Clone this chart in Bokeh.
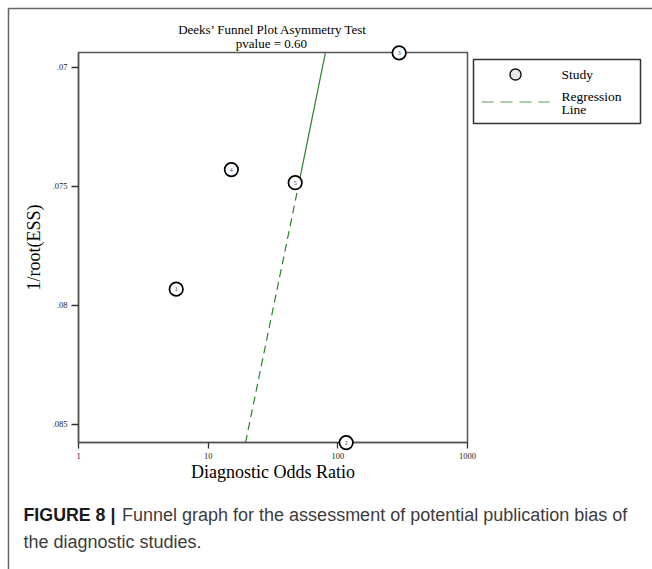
import numpy as np
from bokeh.plotting import figure
from bokeh.models import Range1d, FixedTicker, ColumnDataSource
from bokeh.core.properties import value
from bokeh.embed import file_html
from bokeh.resources import INLINE

# ---------------- data ----------------
study_ids = ["1", "2", "3", "4", "5"]
diagnostic_odds_ratio = [5.67, 116.0, 297.0, 15.1, 46.9]
inv_root_ess = [0.07932, 0.08576, 0.06940, 0.07430, 0.07485]

# regression line (bottom end, point where it turns solid, top end)
reg_dor = [19.4, 50.0, 80.3]
reg_inv_root_ess = [0.08576, 0.0749, 0.06938]

x_ticks = [1, 10, 100, 1000]
x_tick_labels = ["1", "10", "100", "1000"]
y_ticks = [0.07, 0.075, 0.08, 0.085]
y_tick_labels = [".07", ".075", ".08", ".085"]

title_lines = ["Deeks\u2019 Funnel Plot Asymmetry Test", "pvalue =  0.60"]
x_title = "Diagnostic Odds Ratio"
y_title = "1/root(ESS)"
legend_study = "Study"
legend_reg_lines = ["Regression", "Line"]
caption_bold = "FIGURE 8 |"
caption_line1 = "Funnel graph for the assessment of potential publication bias of"
caption_line2 = "the diagnostic studies."

# axis limits
X_MIN, X_MAX = 1, 1000
Y_TOP, Y_BOT = 0.069383, 0.085756

# ---------------- layout (pixels) ----------------
W, H = 652, 569
FRAME_L, FRAME_R = 78, 467
FRAME_T, FRAME_B = 52, 442

K = (Y_BOT - Y_TOP) / (FRAME_B - FRAME_T)
DEC = (FRAME_R - FRAME_L) / (np.log10(X_MAX) - np.log10(X_MIN))


def xd(px):
    return 10 ** (np.log10(X_MIN) + (np.asarray(px, dtype=float) - FRAME_L) / DEC)


def yd(py):
    return Y_TOP + (np.asarray(py, dtype=float) - FRAME_T) * K


SERIF = "Liberation Serif"
SANS = "Liberation Sans"

p = figure(width=W, height=H, x_axis_type="log",
           x_range=Range1d(X_MIN, X_MAX), y_range=Range1d(Y_BOT, Y_TOP),
           min_border_left=FRAME_L, min_border_right=W - FRAME_R,
           min_border_top=FRAME_T, min_border_bottom=H - FRAME_B,
           output_backend="svg", toolbar_location=None)
p.outline_line_color = "#555555"
p.outline_line_width = 1.5
p.xgrid.visible = False
p.ygrid.visible = False
p.background_fill_color = "white"
p.border_fill_color = "white"

# axes
xa = p.xaxis[0]
xa.ticker = FixedTicker(ticks=x_ticks, minor_ticks=[])
xa.major_label_overrides = {t: l for t, l in zip(x_ticks, x_tick_labels)}
ya = p.yaxis[0]
ya.ticker = FixedTicker(ticks=y_ticks, minor_ticks=[])
ya.major_label_overrides = {t: l for t, l in zip(y_ticks, y_tick_labels)}

for ax, tick_out in ((xa, 6), (ya, 7)):
    ax.axis_line_color = "#555555"
    ax.axis_line_width = 1.5
    ax.major_tick_line_color = "#333333"
    ax.major_tick_line_width = 1.3
    ax.major_tick_out = tick_out
    ax.major_tick_in = 0
    ax.minor_tick_out = 0
    ax.minor_tick_in = 0
    ax.major_label_text_font = SERIF
    ax.major_label_text_font_size = "8.5px"
    ax.major_label_text_color = "#222222"
    ax.major_label_standoff = 4
    ax.axis_label_text_font = SERIF
    ax.axis_label_text_font_size = "18px"
    ax.axis_label_text_font_style = "normal"
    ax.axis_label_text_color = "black"

xa.axis_label = x_title
xa.axis_label_standoff = 0
ya.axis_label = y_title
ya.axis_label_standoff = 6

# regression line: dashed lower part, solid upper part
p.line(reg_dor[:2], reg_inv_root_ess[:2], line_color="#2a832a", line_width=1.2,
       line_dash="8 5")
p.line(reg_dor[1:], reg_inv_root_ess[1:], line_color="#2a832a", line_width=1.2)

# studies (overlay level so circles on the frame edge are not cut)
src = ColumnDataSource(dict(x=diagnostic_odds_ratio, y=inv_root_ess, id=study_ids))
p.scatter(x="x", y="y", source=src, marker="circle", size=13.5,
          fill_color="white", line_color="black", line_width=1.7, level="overlay")
p.text(x="x", y="y", text="id", source=src, text_align="center",
       text_baseline="middle", text_font_size="6px", text_color="#444444",
       text_font=value(SERIF), level="overlay")

# ---------------- legend (drawn beside the frame) ----------------
LG_L, LG_R, LG_T, LG_B = 473, 640, 59, 123
p.patch(x=xd([LG_L, LG_R, LG_R, LG_L]), y=yd([LG_T, LG_T, LG_B, LG_B]),
        fill_color="white", line_color="#333333", line_width=1.5, level="overlay")
ang = np.linspace(0, 2 * np.pi, 49)
p.patch(x=xd(515 + 5.5 * np.cos(ang)), y=yd(74 + 5.5 * np.sin(ang)),
        fill_color="#e8e8e8", line_color="black", line_width=1.3, level="overlay")
p.line(x=xd([481, 549]), y=yd([101.5, 101.5]), line_color="#8fbf8f",
       line_width=1.6, line_dash="12 7", level="overlay")
p.text(x=xd([561, 561, 561]), y=yd([74, 95.5, 108.5]),
       text=[legend_study] + legend_reg_lines, text_align="left",
       text_baseline="middle", text_font=value(SERIF), text_font_size="13.5px",
       text_color="black", level="overlay")

# title (two lines above the frame)
xc = 10 ** ((np.log10(X_MIN) + np.log10(X_MAX)) / 2)
p.text(x=[xc, xc], y=yd([29, 43]), text=title_lines, text_align="center",
       text_baseline="middle", text_font=value(SERIF), text_font_size="13px",
       text_color="black", level="overlay")

# outer figure frame (top and left edges)
p.line(x=xd([8, 8, 900]), y=yd([900, 8, 8]),
       line_color="#666666", line_width=1.5, level="overlay")

# caption
p.text(x=xd([23]), y=yd([514]), text=[caption_bold], text_align="left",
       text_baseline="middle", text_font=value(SANS), text_font_style="bold",
       text_font_size="17.8px", text_color="#1a1a1a", level="overlay")
p.text(x=xd([121.5, 23]), y=yd([514, 541]), text=[caption_line1, caption_line2],
       text_align="left", text_baseline="middle", text_font=value(SANS),
       text_font_size="18px", text_color="#3d3d3d", level="overlay")

open("out.html", "w").write(file_html(p, INLINE))
